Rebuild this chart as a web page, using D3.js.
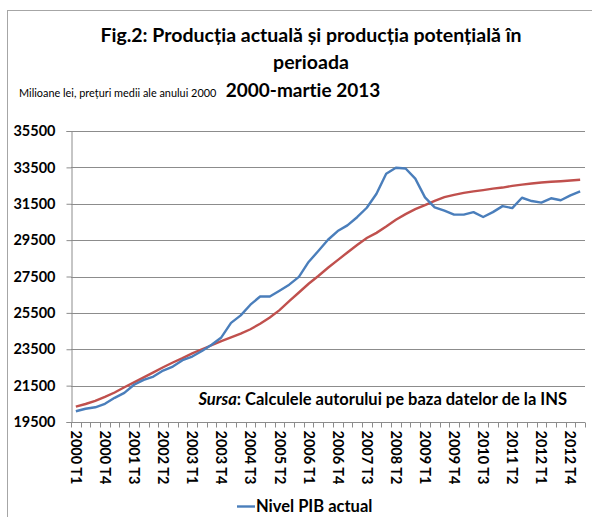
<!DOCTYPE html>
<html>
<head>
<meta charset="utf-8">
<script src="https://cdn.jsdelivr.net/npm/d3@7"></script>
<style>
  body { margin: 0; background: #fff; }
  svg { display: block; font-family: Lato, "Open Sans", sans-serif; font-variant-ligatures: none; }
</style>
</head>
<body>
<script>
const width = 592;
const height = 517;
const marginTop = 131;
const marginRight = 7;
const marginBottom = 95;
const marginLeft = 71;

// quarters 2000 T1 .. 2013 T1
const quarters = [];
for (let y = 2000; y <= 2013; y++) {
  for (let q = 1; q <= 4; q++) {
    if (y === 2013 && q > 1) break;
    quarters.push(y + " T" + q);
  }
}

// Nivel PIB actual
const actual = [
  20090, 20230, 20310, 20500, 20830, 21100, 21550, 21820, 22000, 22330,
  22550, 22900, 23100, 23400, 23750, 24150, 24950, 25360, 25950, 26400,
  26400, 26720, 27050, 27480, 28300, 28900, 29520, 30000, 30310, 30760,
  31280, 32050, 33150, 33480, 33440, 32880, 31850, 31300, 31120, 30900,
  30900, 31040, 30770, 31040, 31370, 31260, 31830, 31650, 31560, 31800,
  31690, 31960, 32180
];

// Nivel PIB potential
const potential = [
  20350, 20490, 20660, 20880, 21120, 21410, 21680, 21955, 22230, 22510,
  22770, 23010, 23270, 23500, 23720, 23950, 24150, 24360, 24600, 24900,
  25250, 25650, 26150, 26620, 27100, 27530, 27980, 28400, 28820, 29230,
  29620, 29900, 30250, 30620, 30930, 31200, 31420, 31660, 31860, 31990,
  32100, 32180, 32250, 32330, 32390, 32480, 32550, 32610, 32670, 32710,
  32740, 32780, 32820
];

const yTicks = [19500, 21500, 23500, 25500, 27500, 29500, 31500, 33500, 35500];

const svg = d3.select("body").append("svg")
  .attr("width", width)
  .attr("height", height);

// chart border
svg.append("rect")
  .attr("x", 7.5).attr("y", 10.5)
  .attr("width", width + 10).attr("height", height + 10)
  .attr("fill", "none")
  .attr("stroke", "#a6a6a6");

const x = d3.scaleBand()
  .domain(quarters)
  .range([marginLeft, width - marginRight]);

const y = d3.scaleLinear()
  .domain([19500, 35500])
  .range([height - marginBottom, marginTop]);

// grid
svg.append("g")
  .selectAll("line")
  .data(yTicks.slice(1))
  .join("line")
    .attr("x1", marginLeft)
    .attr("x2", width - marginRight)
    .attr("y1", d => Math.round(y(d)) + 0.5)
    .attr("y2", d => Math.round(y(d)) + 0.5)
    .attr("stroke", "#8c8c8c");

// y axis
const yAxis = svg.append("g")
  .attr("transform", `translate(${marginLeft + 0.5},0)`)
  .call(d3.axisLeft(y).tickValues(yTicks).tickSize(5).tickPadding(11).tickFormat(d3.format("d")));
yAxis.selectAll("path, line").attr("stroke", "#8c8c8c");
yAxis.selectAll("text")
  .attr("font-size", 14.5)
  .attr("font-weight", "bold")
  .attr("fill", "#000")
  .style("font-family", "Lato");

// x axis
const xAxisY = Math.round(y(19500)) + 0.5;
const xg = svg.append("g");
xg.append("line")
  .attr("x1", marginLeft).attr("x2", width - marginRight)
  .attr("y1", xAxisY).attr("y2", xAxisY)
  .attr("stroke", "#8c8c8c");
xg.selectAll("line.tick")
  .data(quarters.concat(["end"]))
  .join("line")
    .attr("class", "tick")
    .attr("x1", (d, i) => Math.round(marginLeft + i * x.bandwidth()) + 0.5)
    .attr("x2", (d, i) => Math.round(marginLeft + i * x.bandwidth()) + 0.5)
    .attr("y1", xAxisY)
    .attr("y2", xAxisY + 5)
    .attr("stroke", "#8c8c8c");
xg.selectAll("text")
  .data(quarters.filter((d, i) => i % 3 === 0 && i < 52))
  .join("text")
    .attr("transform", d => `translate(${x(d) + x.bandwidth() / 2 - 5},${xAxisY + 8}) rotate(90)`)
    .attr("font-size", 14.5)
    .attr("font-weight", "bold")
    .text(d => d);

// lines
const line = d3.line()
  .x((d, i) => x(quarters[i]) + x.bandwidth() / 2)
  .y(d => y(d));

svg.append("path")
  .datum(potential)
  .attr("fill", "none")
  .attr("stroke", "#c0504d")
  .attr("stroke-width", 2.4)
  .attr("d", line);

svg.append("path")
  .datum(actual)
  .attr("fill", "none")
  .attr("stroke", "#4a7ebb")
  .attr("stroke-width", 2.4)
  .attr("stroke-linejoin", "round")
  .attr("d", line);

// titles
const title = svg.append("g").attr("font-weight", "bold").attr("text-anchor", "middle");
title.append("text").attr("x", 311).attr("y", 42).attr("font-size", 19.5)
  .text("Fig.2: Producția actuală și producția potențială în");
title.append("text").attr("x", 311).attr("y", 69).attr("font-size", 19.5)
  .text("perioada");
title.append("text").attr("x", 303).attr("y", 97).attr("font-size", 19)
  .text("2000-martie 2013");

svg.append("text")
  .attr("x", 19).attr("y", 97)
  .attr("font-size", 10.9)
  .text("Milioane lei, prețuri medii ale anului 2000");

// source note
const src = svg.append("text")
  .attr("x", 567).attr("y", 405)
  .attr("text-anchor", "end")
  .attr("font-size", 16.5)
  .attr("font-weight", "bold");
src.append("tspan").attr("font-style", "italic").text("Sursa");
src.append("tspan").text(": Calculele autorului pe baza datelor de la INS");

// legend
const lg = svg.append("g").attr("transform", "translate(237,506)");
lg.append("line").attr("x1", 0).attr("x2", 18).attr("y1", 0.5).attr("y2", 0.5)
  .attr("stroke", "#4a7ebb").attr("stroke-width", 2.4);
lg.append("text").attr("x", 19).attr("y", 6).attr("font-size", 16.5).attr("font-weight", "bold")
  .text("Nivel PIB actual");
</script>
</body>
</html>
